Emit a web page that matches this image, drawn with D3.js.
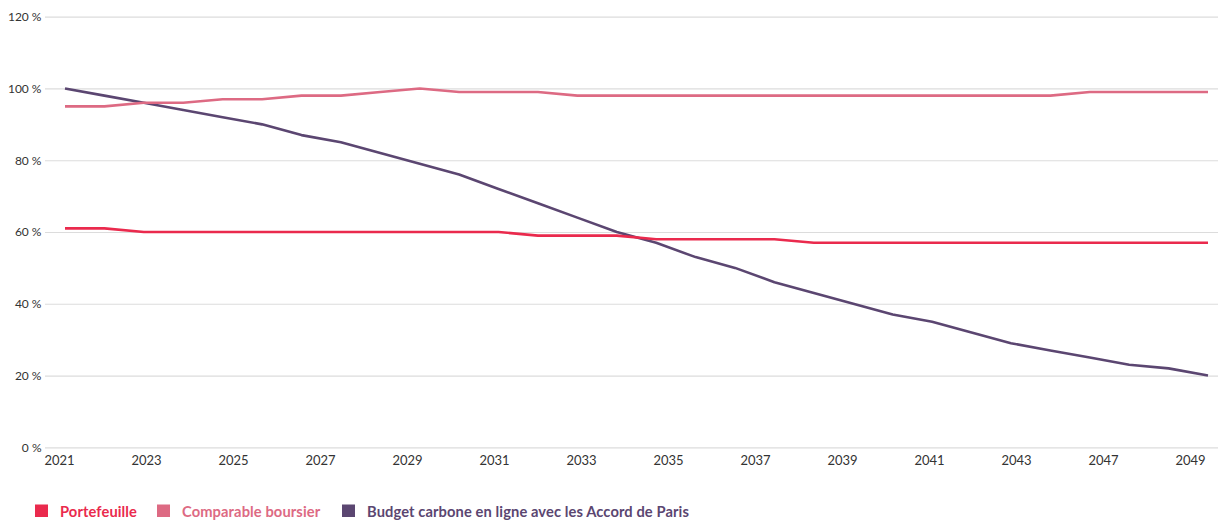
<!DOCTYPE html>
<html>
<head>
<meta charset="utf-8">
<script src="https://cdn.jsdelivr.net/npm/d3@7"></script>
<style>
  html, body { margin: 0; padding: 0; background: #fff; }
  svg { display: block; }
</style>
</head>
<body>
<div id="chart"></div>
<script>
// ---- Data ----
const years = d3.range(2021, 2051); // 30 data points
const portefeuille = [61,61,60,60,60,60,60,60,60,60,60,60,59,59,59,58,58,58,58,57,57,57,57,57,57,57,57,57,57,57];
const comparable   = [95,95,96,96,97,97,98,98,99,100,99,99,99,98,98,98,98,98,98,98,98,98,98,98,98,98,99,99,99,99];
const budget       = [100,98,96,94,92,90,87,85,82,79,76,72,68,64,60,57,53,50,46,43,40,37,35,32,29,27,25,23,22,20];
const xTickLabels  = ["2021","2023","2025","2027","2029","2031","2033","2035","2037","2039","2041","2043","2047","2049"];
const yTicks       = [0,20,40,60,80,100,120];
const seriesNames  = ["Portefeuille","Comparable boursier","Budget carbone en ligne avec les Accord de Paris"];
const seriesColors = ["#ea2a4d","#dd6a83","#5b4671"];

// ---- Layout ----
const W = 1218, H = 521;
const svg = d3.select("#chart").append("svg").attr("width", W).attr("height", H);
const font = "Lato, 'Open Sans', sans-serif";

const x = d3.scalePoint().domain(years).range([65, 1208]);
const xLab = d3.scalePoint().domain(xTickLabels).range([59, 1190]);
const y = d3.scaleLinear().domain([0, 120]).range([447.3, 16.7]);

// gridlines + y labels
const yAxis = d3.axisLeft(y).tickValues(yTicks).tickSize(0).tickPadding(0)
  .tickFormat(d => d + " %");
const gY = svg.append("g").attr("transform", "translate(41.5,0)").call(yAxis);
gY.select(".domain").remove();
gY.selectAll("text").attr("font-family", font).attr("font-size", 12).attr("fill", "#333");
gY.selectAll(".tick").append("line")
  .attr("x1", 3.5).attr("x2", W - 41.5)
  .attr("stroke", "#dcdcdc").attr("stroke-width", 1.2);

// x labels
const xAxis = d3.axisBottom(xLab).tickSize(0).tickPadding(0);
const gX = svg.append("g").attr("transform", "translate(0,456)").call(xAxis);
gX.select(".domain").remove();
gX.selectAll("text").attr("font-family", font).attr("font-size", 13).attr("fill", "#333");

// lines
const allSeries = [portefeuille, comparable, budget];
const line = d3.line().x((d, i) => x(years[i])).y(d => y(d));
[2, 1, 0].forEach(k => {
  svg.append("path")
    .datum(allSeries[k])
    .attr("d", line)
    .attr("fill", "none")
    .attr("stroke", seriesColors[k])
    .attr("stroke-width", 2.6)
    .attr("stroke-linejoin", "round");
});

// legend
const legendX = [35, 157, 342];
const lg = svg.append("g");
seriesNames.forEach((name, i) => {
  lg.append("rect").attr("x", legendX[i]).attr("y", 504.5).attr("width", 13).attr("height", 12.5)
    .attr("fill", seriesColors[i]);
  lg.append("text").attr("x", legendX[i] + 25).attr("y", 516.5)
    .attr("font-family", font).attr("font-weight", 700).attr("font-size", 14.7)
    .attr("letter-spacing", 0.1)
    .attr("fill", seriesColors[i]).text(name);
});
</script>
</body>
</html>
